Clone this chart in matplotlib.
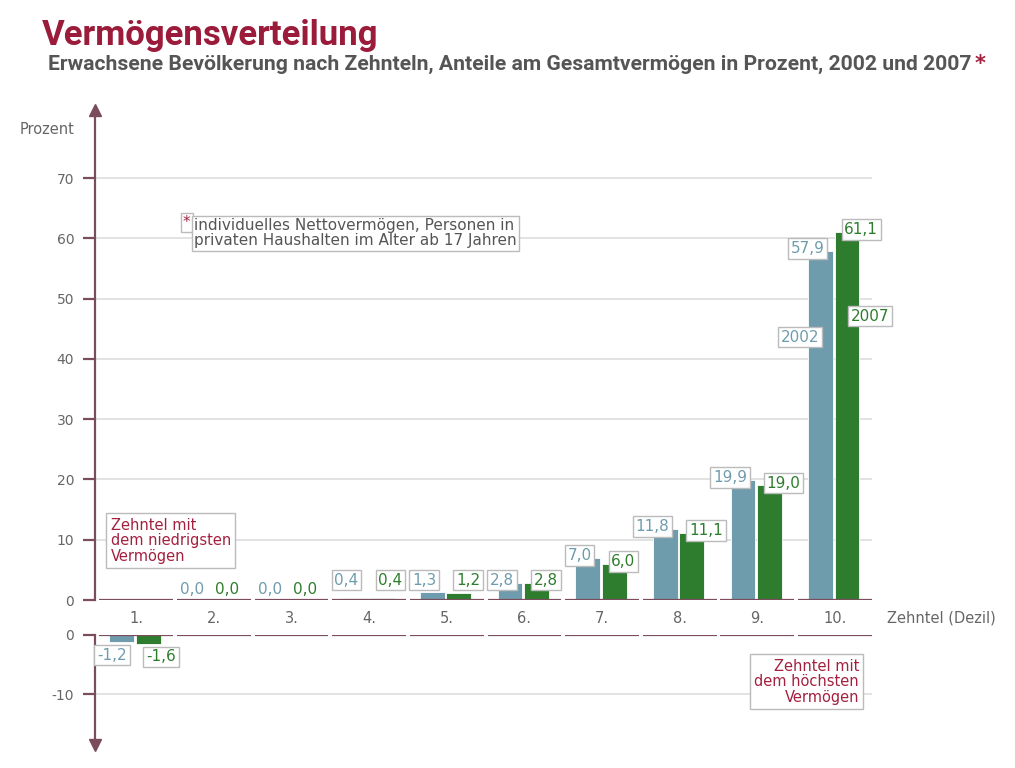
import matplotlib.pyplot as plt

plt.rcParams['font.family'] = ['DejaVu Sans']

# Daten
dezile = ['1.', '2.', '3.', '4.', '5.', '6.', '7.', '8.', '9.', '10.']
werte_2002 = [-1.2, 0.0, 0.0, 0.4, 1.3, 2.8, 7.0, 11.8, 19.9, 57.9]
werte_2007 = [-1.6, 0.0, 0.0, 0.4, 1.2, 2.8, 6.0, 11.1, 19.0, 61.1]
yticks_oben = [0, 10, 20, 30, 40, 50, 60, 70]
yticks_unten = [0, -10]

blau = '#6f9cad'
gruen = '#2e7d2e'
rot = '#a3203f'
achse = '#7a4c5c'
grau = '#666666'
gitter = '#dddddd'

fig = plt.figure(figsize=(10.15, 7.68), dpi=100)
ax = fig.add_axes([95/1015, 1-600/768, 776.5/1015, 490/768])
ax2 = fig.add_axes([95/1015, 1-745/768, 776.5/1015, 110/768])

x = list(range(len(dezile)))
xb = [i - 0.185 for i in x]
xg = [i + 0.155 for i in x]

for a, ylim, ticks in [(ax, (0, 81.3), yticks_oben), (ax2, (-18.64, 0), yticks_unten)]:
    a.set_xlim(-0.53, 9.47)
    a.set_ylim(*ylim)
    for s in ['top', 'right', 'bottom']:
        a.spines[s].set_visible(False)
    a.spines['left'].set_color(achse)
    a.spines['left'].set_linewidth(1.6)
    a.set_xticks([])
    a.set_yticks(ticks)
    a.set_yticklabels([str(t) for t in ticks])
    a.tick_params(axis='y', direction='out', length=9, width=1.6, color=achse,
                  labelcolor=grau, labelsize=10, pad=6)
    for t in ticks:
        if t != 0:
            a.axhline(t, color=gitter, lw=1.2, zorder=0)
    for i in x:
        a.hlines(0, i - 0.475, i + 0.475, color=achse, lw=1.6, zorder=3)
    a.bar(xb, werte_2002, width=0.32, color=blau, edgecolor='white', lw=0.6, zorder=2)
    a.bar(xg, werte_2007, width=0.32, color=gruen, edgecolor='white', lw=0.6, zorder=2)

ax.plot(0, 1, marker='^', color=achse, ms=9, transform=ax.transAxes, clip_on=False)
ax2.plot(0, 0, marker='v', color=achse, ms=9, transform=ax2.transAxes, clip_on=False)

box = dict(boxstyle='square,pad=0.18', fc='white', ec='#bbbbbb', lw=1)

def fmt(v):
    return ('%.1f' % v).replace('.', ',')

fs = 11
for i in x:
    vb, vg = werte_2002[i], werte_2007[i]
    if vb < 0:
        ax2.text(i - 0.12, vb - 2.2, fmt(vb), color=blau, fontsize=fs, ha='right', va='center', bbox=box, zorder=5)
        ax2.text(i + 0.13, vg - 2.1, fmt(vg), color=gruen, fontsize=fs, ha='left', va='center', bbox=box, zorder=5)
    elif vb == 0:
        ax.text(i - 0.28, 1.8, fmt(vb), color=blau, fontsize=fs, ha='center', va='center')
        ax.text(i + 0.17, 1.8, fmt(vg), color=gruen, fontsize=fs, ha='center', va='center')
    else:
        ax.text(i - 0.135, max(vb + 0.4, 3.3), fmt(vb), color=blau, fontsize=fs, ha='right', va='center', bbox=box, zorder=5)
        ax.text(i + 0.12, max(vg + 0.4, 3.3), fmt(vg), color=gruen, fontsize=fs, ha='left', va='center', bbox=box, zorder=5)

ax.text(9 - 0.2, 43.6, '2002', color=blau, fontsize=fs, ha='right', va='center', bbox=box, zorder=5)
ax.text(9 + 0.2, 47.1, '2007', color=gruen, fontsize=fs, ha='left', va='center', bbox=box, zorder=5)

for i in x:
    ax.text(i, -3.0, dezile[i], color=grau, fontsize=10.5, ha='center', va='center', clip_on=False)
ax.text(9.667, -3.0, 'Zehntel (Dezil)', color=grau, fontsize=10.5, ha='left', va='center', clip_on=False)

box2 = dict(boxstyle='square,pad=0.3', fc='white', ec='#bbbbbb', lw=1)
ax.text(-0.33, 9.8, 'Zehntel mit\ndem niedrigsten\nVermögen', color=rot, fontsize=10.5,
        ha='left', va='center', linespacing=1.05, bbox=box2, zorder=5)
ax2.text(9.31, -7.9, 'Zehntel mit\ndem höchsten\nVermögen', color=rot, fontsize=10.5,
         ha='right', va='center', linespacing=1.05, bbox=box2, zorder=5)

ax.text(0.745, 60.85, 'individuelles Nettovermögen, Personen in\nprivaten Haushalten im Alter ab 17 Jahren',
        color='#555555', fontsize=11, ha='left', va='center', linespacing=1.0,
        bbox=dict(boxstyle='square,pad=0.15', fc='white', ec='#bbbbbb', lw=1), zorder=5)
ax.text(0.603, 62.6, '*', color=rot, fontsize=11, ha='left', va='center',
        bbox=dict(boxstyle='square,pad=0.15', fc='white', ec='#bbbbbb', lw=1), zorder=4)

fig.text(20/1015, 1-130/768, 'Prozent', color=grau, fontsize=10.5, ha='left', va='center')

fig.text(42/1015, 1-35/768, 'Vermögensverteilung', color='#9b1b3a', fontsize=25,
         fontweight='bold', family='Roboto', ha='left', va='center')
sub = fig.text(48/1015, 1-64/768, 'Erwachsene Bevölkerung nach Zehnteln, Anteile am Gesamtvermögen in Prozent, 2002 und 2007',
               color='#555555', fontsize=15.2, fontweight='bold', family='Roboto', ha='left', va='center')
ax.annotate('*', xy=(1, 0.5), xycoords=sub, xytext=(2, 0), textcoords='offset points',
            color=rot, fontsize=15, fontweight='bold', ha='left', va='center')

fig.savefig('out.png', dpi=100)
